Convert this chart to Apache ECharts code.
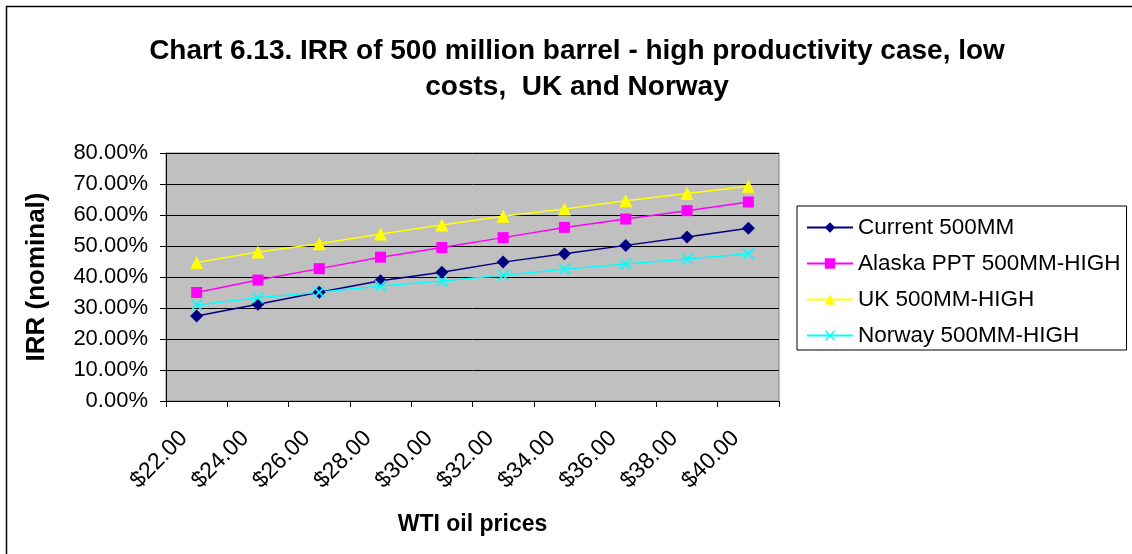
<!DOCTYPE html>
<html>
<head>
<meta charset="utf-8">
<script src="https://cdn.jsdelivr.net/npm/echarts@6/dist/echarts.min.js"></script>
<style>
html,body{margin:0;padding:0;background:#fff;}
#c{width:1132px;height:554px;}
</style>
</head>
<body>
<div id="c"></div>
<script>
const categories = ['$22.00','$24.00','$26.00','$28.00','$30.00','$32.00','$34.00','$36.00','$38.00','$40.00'];
const currentVals = [27.4, 31.2, 35.1, 38.8, 41.5, 44.8, 47.5, 50.2, 52.9, 55.7];
const alaskaVals  = [35.0, 39.0, 42.7, 46.4, 49.5, 52.7, 56.0, 58.7, 61.4, 64.2];
const ukVals      = [44.7, 48.1, 50.7, 53.9, 56.8, 59.6, 61.9, 64.6, 66.9, 69.3];
const norwayVals  = [31.0, 33.3, 35.1, 37.1, 38.7, 40.6, 42.5, 44.2, 45.8, 47.5];
const seriesNames = ['Current 500MM','Alaska PPT 500MM-HIGH','UK 500MM-HIGH','Norway 500MM-HIGH'];
const yTicks = [0,10,20,30,40,50,60,70,80];

const FONT = '"Liberation Sans", Arial, sans-serif';
const xPath = 'path://M0,1L1,0L5,4L9,0L10,1L6,5L10,9L9,10L5,6L1,10L0,9L4,5Z';

function mk(name, data, color, symbol, size) {
  return {
    name: name, type: 'line', data: data,
    symbol: symbol, symbolSize: size,
    lineStyle: {color: color, width: 1.5},
    itemStyle: {color: color},
    emphasis: {disabled: true},
    animation: false
  };
}

const chart = echarts.init(document.getElementById('c'), null, {renderer: 'canvas'});
chart.setOption({
  backgroundColor: '#fff',
  animation: false,
  graphic: [{
    type: 'rect', shape: {x: 6.5, y: 6.5, width: 1200, height: 600},
    style: {fill: 'none', stroke: '#000', lineWidth: 1.5}, silent: true, z: -10
  }],
  title: {
    text: 'Chart 6.13. IRR of 500 million barrel - high productivity case, low\ncosts,  UK and Norway',
    left: 572, top: 28, textAlign: 'center',
    textStyle: {fontFamily: FONT, fontSize: 28, fontWeight: 'bold', color: '#000', lineHeight: 36}
  },
  legend: {
    orient: 'vertical', left: 797, top: 206,
    padding: [10, 6, 3, 9],
    itemWidth: 46, itemHeight: 13, itemGap: 13,
    borderColor: '#000', borderWidth: 1, backgroundColor: '#fff',
    textStyle: {fontFamily: FONT, fontSize: 22.5, color: '#000', lineHeight: 22},
    data: seriesNames
  },
  grid: {
    left: 166, right: 353, top: 153, bottom: 153,
    show: true, backgroundColor: '#C0C0C0', borderColor: '#808080', borderWidth: 1
  },
  xAxis: {
    type: 'category', data: categories, boundaryGap: true,
    name: 'WTI oil prices', nameLocation: 'middle', nameGap: 112,
    nameTextStyle: {fontFamily: FONT, fontSize: 23, fontWeight: 'bold', color: '#000'},
    axisLine: {lineStyle: {color: '#000', width: 1}},
    axisTick: {show: true, length: 6, lineStyle: {color: '#000'}, alignWithLabel: false},
    axisLabel: {rotate: 45, margin: 21, padding: [0, 18, 0, 0], fontFamily: FONT, fontSize: 23, color: '#000', interval: 0},
    splitLine: {show: false}
  },
  yAxis: {
    type: 'value', min: 0, max: 80, interval: 10,
    name: 'IRR (nominal)', nameLocation: 'middle', nameGap: 116, nameRotate: 90,
    nameTextStyle: {fontFamily: FONT, fontSize: 26, fontWeight: 'bold', color: '#000'},
    axisLine: {show: true, lineStyle: {color: '#000', width: 1}},
    axisTick: {show: true, length: 6, lineStyle: {color: '#000'}},
    axisLabel: {margin: 18, fontFamily: FONT, fontSize: 22, color: '#000',
      formatter: v => v.toFixed(2) + '%'},
    splitLine: {show: true, lineStyle: {color: '#000', width: 1}}
  },
  series: [
    mk(seriesNames[0], currentVals, '#000080', 'diamond', 13),
    mk(seriesNames[1], alaskaVals, '#FF00FF', 'rect', 11),
    mk(seriesNames[2], ukVals, '#FFFF00', 'triangle', 13),
    mk(seriesNames[3], norwayVals, '#00FFFF', xPath, 12)
  ]
});
</script>
</body>
</html>
